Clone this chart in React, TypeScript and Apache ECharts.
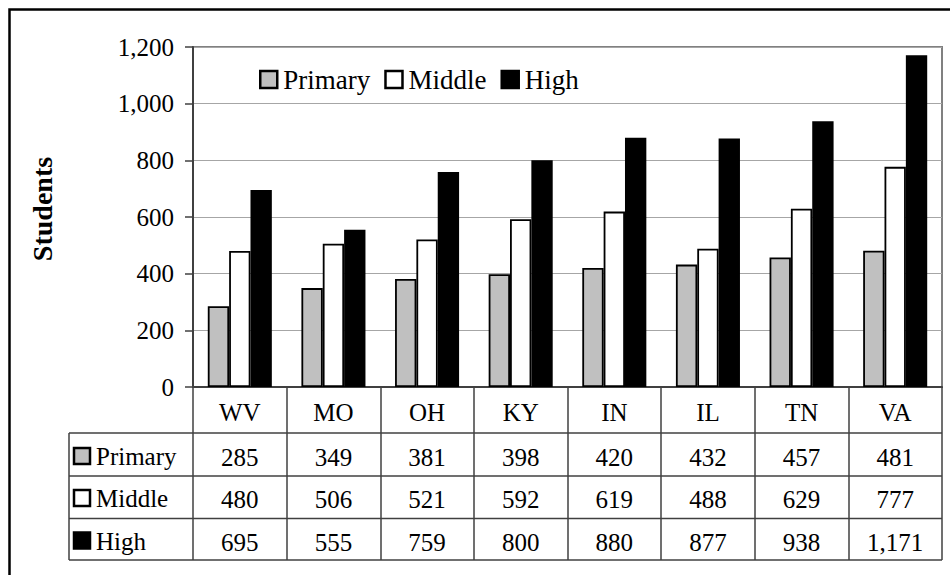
import React, { useEffect, useRef } from "react";
import * as echarts from "echarts";

const categories = ["WV", "MO", "OH", "KY", "IN", "IL", "TN", "VA"];
const primary = [285, 349, 381, 398, 420, 432, 457, 481];
const middle = [480, 506, 521, 592, 619, 488, 629, 777];
const high = [695, 555, 759, 800, 880, 877, 938, 1171];
const seriesNames = ["Primary", "Middle", "High"];
const seriesColors = ["#c0c0c0", "#ffffff", "#000000"];
const yMin = 0;
const yMax = 1200;
const yInterval = 200;
const yTitle = "Students";

const FONT = "'Liberation Serif', 'Times New Roman', serif";
const fmt = (v: number) => v.toLocaleString("en-US");

export default function App() {
  const ref = useRef<HTMLDivElement>(null);
  useEffect(() => {
    if (!ref.current) return;
    const chart = echarts.init(ref.current, null, { renderer: "svg" });
    const seriesData = [primary, middle, high];

    const gridLeft = 193;
    const gridTop = 47;
    const gridRight = 8;
    const gridBottom = 188;
    const axisY = 575 - gridBottom; // 387
    const tableLeft = 69;
    const tableRight = 950 - gridRight;
    const rowLines = [axisY + 46, axisY + 89, axisY + 131.5, axisY + 173];
    const rowCenters = [456.5, 498.5, 541];
    const lineColor = "#404040";

    const graphic: any[] = [
      {
        type: "rect",
        shape: { x: 9.5, y: 9.5, width: 1200, height: 1200 },
        style: { fill: "none", stroke: "#000", lineWidth: 2.5 },
        silent: true,
      },
      {
        type: "text",
        x: 42,
        y: 209,
        rotation: Math.PI / 2,
        style: {
          text: yTitle,
          font: `bold 28px ${FONT}`,
          fill: "#000",
          align: "center",
          verticalAlign: "middle",
        },
      },
    ];
    rowLines.forEach((y) => {
      graphic.push({
        type: "line",
        shape: { x1: tableLeft, y1: y, x2: tableRight, y2: y },
        style: { stroke: lineColor, lineWidth: 1.5 },
        silent: true,
      });
    });
    graphic.push({
      type: "line",
      shape: { x1: tableLeft, y1: rowLines[0], x2: tableLeft, y2: rowLines[3] },
      style: { stroke: lineColor, lineWidth: 1.5 },
      silent: true,
    });
    seriesNames.forEach((name, i) => {
      const cy = rowCenters[i] - 0.5;
      graphic.push({
        type: "rect",
        shape: { x: 74, y: cy - 8, width: 16, height: 16 },
        style: { fill: seriesColors[i], stroke: "#000", lineWidth: 2.5 },
        silent: true,
      });
      graphic.push({
        type: "text",
        x: 96,
        y: rowCenters[i],
        style: {
          text: name,
          font: `25px ${FONT}`,
          fill: "#000",
          align: "left",
          verticalAlign: "middle",
        },
      });
    });

    const valueAxes = seriesData.map((arr, i) => ({
      type: "category",
      gridIndex: 0,
      position: "bottom",
      data: arr.map(fmt),
      axisLine: { show: false },
      axisTick: { show: false },
      splitLine: { show: false },
      axisLabel: {
        interval: 0,
        margin: rowCenters[i] - axisY + 1,
        verticalAlign: "middle",
        color: "#000",
        fontFamily: FONT,
        fontSize: 25,
      },
    }));

    chart.setOption({
      animation: false,
      backgroundColor: "#fff",
      grid: {
        left: gridLeft,
        top: gridTop,
        right: gridRight,
        bottom: gridBottom,
        show: true,
        borderColor: "#808080",
        borderWidth: 2,
        backgroundColor: "#fff",
      },
      legend: {
        data: seriesNames,
        left: 254,
        top: 61,
        itemWidth: 17,
        itemHeight: 17,
        itemGap: 14,
        icon: "rect",
        itemStyle: { borderColor: "#000", borderWidth: 2.5 },
        textStyle: { fontFamily: FONT, fontSize: 27, color: "#000", padding: [0, 0, 0, 1] },
      },
      xAxis: [
        {
          type: "category",
          gridIndex: 0,
          position: "bottom",
          data: categories,
          boundaryGap: true,
          axisLine: { show: true, lineStyle: { color: "#404040", width: 2 } },
          axisTick: {
            show: true,
            interval: 0,
            length: rowLines[3] - axisY,
            lineStyle: { color: lineColor, width: 1.5 },
          },
          axisLabel: {
            interval: 0,
            margin: 25.5,
            verticalAlign: "middle",
            color: "#000",
            fontFamily: FONT,
            fontSize: 25,
          },
          splitLine: { show: false },
        },
        ...valueAxes,
      ],
      yAxis: {
        type: "value",
        min: yMin,
        max: yMax,
        interval: yInterval,
        axisLine: { show: true, lineStyle: { color: "#404040", width: 2 } },
        axisTick: { show: true, length: 8, lineStyle: { color: "#404040", width: 1.5 } },
        axisLabel: {
          margin: 19,
          color: "#000",
          fontFamily: FONT,
          fontSize: 25,
          formatter: (v: number) => fmt(v),
        },
        splitLine: { show: true, lineStyle: { color: "#a6a6a6", width: 1.2 } },
      },
      series: seriesNames.map((name, i) => ({
        name,
        type: "bar",
        xAxisIndex: 0,
        data: seriesData[i],
        barGap: "0%",
        barCategoryGap: "31.6%",
        itemStyle: { color: seriesColors[i], borderColor: "#000", borderWidth: 1.8 },
      })),
      graphic,
    });
    return () => chart.dispose();
  }, []);
  return (
    <div
      ref={ref}
      style={{ position: "fixed", left: 0, top: 0, width: 950, height: 575 }}
    />
  );
}
